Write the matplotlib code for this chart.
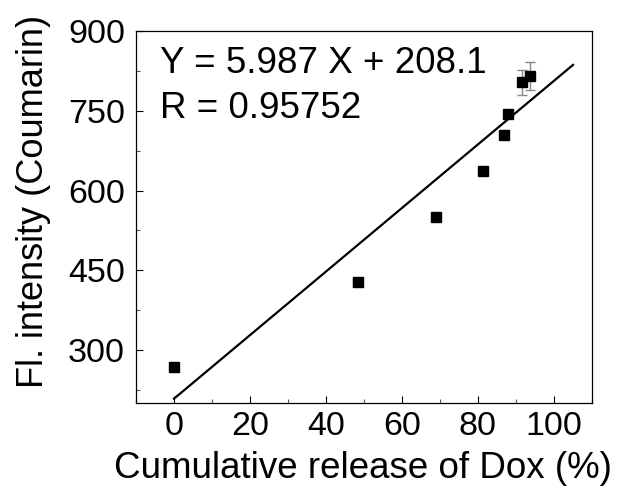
import matplotlib
matplotlib.use("Agg")
import matplotlib.pyplot as plt
import numpy as np
from matplotlib.ticker import MultipleLocator

plt.rcParams['font.family'] = ['Liberation Sans', 'DejaVu Sans']

# Data
release = [0, 48.3, 68.9, 81.3, 86.8, 87.9, 91.6, 93.6]
intensity = [268, 427, 551, 636, 704, 745, 804, 816]
x_err = [0, 1.2, 0.5, 0.5, 0.5, 0.5, 0.5, 0.8]
y_err = [0, 3, 3, 3, 4, 4, 24, 26]
slope = 5.987
intercept = 208.1
r_value = 0.95752
fit_range = [0, 105]

x_ticks = [0, 20, 40, 60, 80, 100]
y_ticks = [300, 450, 600, 750, 900]

fig = plt.figure(figsize=(6.22, 5.0), dpi=100)
ax = fig.add_axes([136/622, 1-403/500, 456/622, 371.7/500])

ax.errorbar(release, intensity, xerr=x_err, yerr=y_err, fmt='none',
            ecolor='#888888', elinewidth=1.0, capsize=3.5, capthick=1.0, zorder=2)
ax.plot(release, intensity, 's', color='black', markersize=7.2, zorder=3)

fx = np.array(fit_range, dtype=float)
ax.plot(fx, slope * fx + intercept, '-', color='black', linewidth=1.6, zorder=4)

ax.set_xlim(-10, 110)
ax.set_ylim(200, 900)
ax.set_xticks(x_ticks)
ax.set_yticks(y_ticks)
ax.xaxis.set_minor_locator(MultipleLocator(10))
ax.yaxis.set_minor_locator(MultipleLocator(75))
ax.tick_params(which='major', direction='in', length=5, width=0.8,
               labelsize=24.5, pad=8, color='black', labelcolor='black')
ax.tick_params(which='minor', direction='in', length=3, width=0.8, color='#555555')
ax.tick_params(axis='x', which='major', pad=6)
for s in ax.spines.values():
    s.set_linewidth(0.9)
    s.set_color('black')

ax.set_xlabel('Cumulative release of Dox (%)', fontsize=26.5)
ax.set_ylabel('Fl. intensity (Coumarin)', fontsize=26)
ax.xaxis.set_label_coords(0.497, -0.13)
ax.yaxis.set_label_coords(-0.186, 0.541)

ax.text(0.0526, 0.887, f'Y = {slope:.3f} X + {intercept:.1f}', transform=ax.transAxes,
        fontsize=26.5, va='baseline', ha='left')
ax.text(0.0526, 0.7667, f'R = {r_value:.5f}', transform=ax.transAxes,
        fontsize=26.5, va='baseline', ha='left')

fig.savefig('out.png', dpi=100)
